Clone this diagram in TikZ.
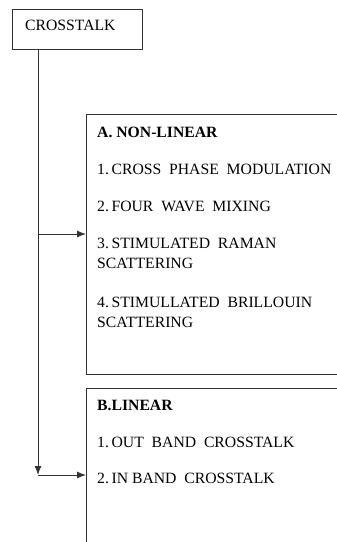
\documentclass[tikz,border=0pt]{standalone}
\usepackage{fontspec}
\setmainfont{Liberation Serif}
\usetikzlibrary{arrows.meta}

\tikzset{
  frame/.style={draw=black!80, line width=1pt, rectangle, inner sep=0pt, anchor=north west},
  item/.style={anchor=west, inner sep=0pt, font=\fontsize{15.7}{18}\selectfont},
  head/.style={item, font=\fontsize{15.7}{18}\selectfont\bfseries},
  link/.style={draw=black!80, line width=1pt, -{Latex[length=9pt,width=7pt]}},
}

\begin{document}
\begin{tikzpicture}[x=1pt,y=-1pt]
\clip (0,0) rectangle (337,542);
% boxes
\node[frame, minimum width=130pt, minimum height=40pt] (crosstalk) at (12,9) {};
\node[frame, minimum width=270pt, minimum height=260pt] (nonlin) at (86,114) {};
\node[frame, minimum width=270pt, minimum height=170pt] (lin) at (86,388) {};
% texts
\node[item] (crosstalk-txt) at (25,25) {CROSSTALK};
\node[head] (nonlin-head) at (97,132) {A. NON-LINEAR};
\node[item] (nonlin-1) at (97,169) {1.\,CROSS\ \ PHASE\ \ MODULATION};
\node[item] (nonlin-2) at (97,206) {2.\,FOUR\ \ WAVE\ \ MIXING};
\node[item] (nonlin-3) at (97,243) {3.\,STIMULATED\ \ RAMAN};
\node[item] (nonlin-3b) at (97,263) {SCATTERING};
\node[item] (nonlin-4) at (97,302) {4.\,STIMULLATED\ \ BRILLOUIN};
\node[item] (nonlin-4b) at (97,322) {SCATTERING};
\node[head] (lin-head) at (97,405) {B.LINEAR};
\node[item] (lin-1) at (97,442) {1.\,OUT\ \ BAND\ \ CROSSTALK};
\node[item] (lin-2) at (97,478) {2.\,IN\ BAND\ \ CROSSTALK};
% connectors
\coordinate (trunk-top) at ([xshift=26pt]crosstalk.south west);
\coordinate (split) at (38,234);
\coordinate (trunk-end) at (38,475);
\draw[draw=black!80, line width=1pt] (trunk-top) -- (split);
\draw[link] (split) -- (nonlin.west |- split);
\draw[link] (split) -- (trunk-end);
\draw[link] (trunk-end) -- (lin.west |- trunk-end);
\end{tikzpicture}
\end{document}
